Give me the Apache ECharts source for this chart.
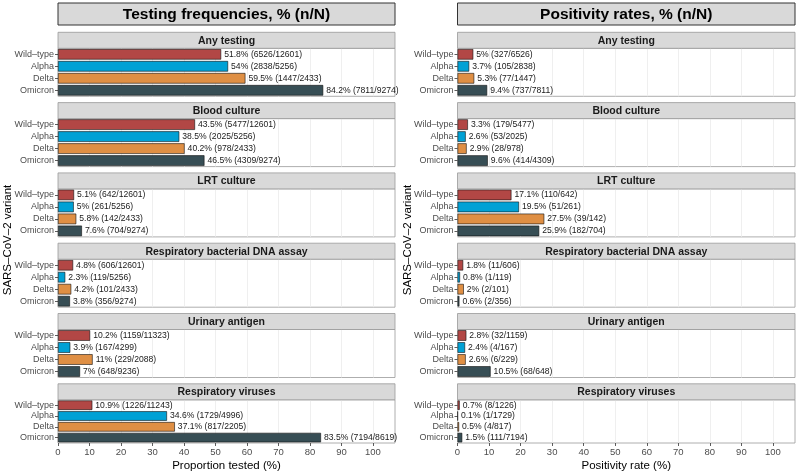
<!DOCTYPE html>
<html>
<head>
<meta charset="utf-8">
<script src="https://cdn.jsdelivr.net/npm/echarts@6/dist/echarts.min.js"></script>
<style>
html,body{margin:0;padding:0;background:#fff;}
#main{width:800px;height:473px;}
</style>
</head>
<body>
<div id="main"></div>
<script>
const variants = ['Wild–type', 'Alpha', 'Delta', 'Omicron'];
const facets = ['Any testing', 'Blood culture', 'LRT culture', 'Respiratory bacterial DNA assay', 'Urinary antigen', 'Respiratory viruses'];
const xTicks = [0, 10, 20, 30, 40, 50, 60, 70, 80, 90, 100];

// Testing frequencies
const testPct = [
  [51.8, 54, 59.5, 84.2],
  [43.5, 38.5, 40.2, 46.5],
  [5.1, 5, 5.8, 7.6],
  [4.8, 2.3, 4.2, 3.8],
  [10.2, 3.9, 11, 7],
  [10.9, 34.6, 37.1, 83.5]
];
const testN = [
  [6526, 2838, 1447, 7811],
  [5477, 2025, 978, 4309],
  [642, 261, 142, 704],
  [606, 119, 101, 356],
  [1159, 167, 229, 648],
  [1226, 1729, 817, 7194]
];
const testD = [
  [12601, 5256, 2433, 9274],
  [12601, 5256, 2433, 9274],
  [12601, 5256, 2433, 9274],
  [12601, 5256, 2433, 9274],
  [11323, 4299, 2088, 9236],
  [11243, 4996, 2205, 8619]
];

// Positivity rates
const posPct = [
  [5, 3.7, 5.3, 9.4],
  [3.3, 2.6, 2.9, 9.6],
  [17.1, 19.5, 27.5, 25.9],
  [1.8, 0.8, 2, 0.6],
  [2.8, 2.4, 2.6, 10.5],
  [0.7, 0.1, 0.5, 1.5]
];
const posN = [
  [327, 105, 77, 737],
  [179, 53, 28, 414],
  [110, 51, 39, 182],
  [11, 1, 2, 2],
  [32, 4, 6, 68],
  [8, 1, 4, 111]
];
const posD = [
  [6526, 2838, 1447, 7811],
  [5477, 2025, 978, 4309],
  [642, 261, 142, 704],
  [606, 119, 101, 356],
  [1159, 167, 229, 648],
  [1226, 1729, 817, 7194]
];

const palette = ['#B24745', '#00A1D5', '#DF8F44', '#374E55'];
const FONT = '"Liberation Sans", Arial, Helvetica, sans-serif';

const columns = [
  {left: 58, width: 337, title: 'Testing frequencies, % (n/N)', xName: 'Proportion tested (%)', pct: testPct, n: testN, d: testD, yTitleX: 8},
  {left: 457.5, width: 337.5, title: 'Positivity rates, % (n/N)', xName: 'Positivity rate (%)', pct: posPct, n: posN, d: posD, yTitleX: 408}
];
const TOP0 = 32.3, PERIOD = 70.3, STRIP_H = 16, PLOT_H = 48;

const grid = [], xAxis = [], yAxis = [], series = [], graphic = [];
let gi = 0;
columns.forEach((col, c) => {
  graphic.push({
    type: 'rect', shape: {x: col.left, y: 3, width: col.width, height: 22},
    style: {fill: '#d9d9d9', stroke: '#333', lineWidth: 1}, z: 10
  });
  graphic.push({
    type: 'text', x: col.left + col.width / 2, y: 14.5,
    style: {text: col.title, font: 'bold 15.5px ' + FONT, fill: '#000', align: 'center', verticalAlign: 'middle'}, z: 11
  });
  graphic.push({
    type: 'text', x: col.yTitleX, y: 240, rotation: Math.PI / 2,
    style: {text: 'SARS–CoV–2 variant', font: '11.5px ' + FONT, fill: '#000', align: 'center', verticalAlign: 'middle'}, z: 11
  });
  facets.forEach((fname, f) => {
    const stripTop = TOP0 + PERIOD * f;
    graphic.push({
      type: 'rect', shape: {x: col.left, y: stripTop, width: col.width, height: STRIP_H},
      style: {fill: '#d9d9d9', stroke: '#999', lineWidth: 0.8}, z: 10
    });
    graphic.push({
      type: 'text', x: col.left + col.width / 2, y: stripTop + STRIP_H / 2 + 0.5,
      style: {text: fname, font: 'bold 10.5px ' + FONT, fill: '#1a1a1a', align: 'center', verticalAlign: 'middle'}, z: 11
    });
    grid.push({
      left: col.left, width: col.width, top: stripTop + STRIP_H, height: PLOT_H,
      show: true, backgroundColor: '#fff', borderColor: '#999', borderWidth: 0.8, containLabel: false
    });
    const last = f === facets.length - 1;
    xAxis.push({
      type: 'value', gridIndex: gi, min: 0, max: 107,
      axisLine: {show: false},
      axisTick: {show: last, length: 3, lineStyle: {color: '#333', width: 0.8}, customValues: xTicks},
      axisLabel: {show: last, customValues: xTicks, color: '#4d4d4d', fontSize: 9.5, fontFamily: FONT, margin: 4},
      splitLine: {show: true, lineStyle: {color: '#ebebeb', width: 0.8}},
      name: last ? col.xName : '', nameLocation: 'middle', nameGap: 17,
      nameTextStyle: {color: '#000', fontSize: 11.5, fontFamily: FONT}
    });
    yAxis.push({
      type: 'category', gridIndex: gi, data: variants, inverse: true,
      axisLine: {show: false},
      axisTick: {show: true, alignWithLabel: true, interval: 0, length: 3, lineStyle: {color: '#333', width: 0.8}},
      axisLabel: {interval: 0, color: '#4d4d4d', fontSize: 9, fontFamily: FONT, margin: 4},
      splitLine: {show: false}
    });
    const pct = col.pct[f], nn = col.n[f], dd = col.d[f];
    series.push({
      type: 'bar', xAxisIndex: gi, yAxisIndex: gi,
      barWidth: '88%',
      data: pct.map((v, i) => ({value: v, itemStyle: {color: palette[i], borderColor: '#111', borderWidth: 0.6}})),
      label: {
        show: true, position: 'right', distance: 3,
        color: '#1a1a1a', fontSize: 8.6, fontFamily: FONT,
        formatter: p => pct[p.dataIndex] + '% (' + nn[p.dataIndex] + '/' + dd[p.dataIndex] + ')'
      },
      silent: true, animation: false
    });
    gi++;
  });
});

const chart = echarts.init(document.getElementById('main'), null, {renderer: 'canvas'});
chart.setOption({
  backgroundColor: '#fff',
  animation: false,
  textStyle: {fontFamily: FONT},
  grid, xAxis, yAxis, series, graphic
});
</script>
</body>
</html>
